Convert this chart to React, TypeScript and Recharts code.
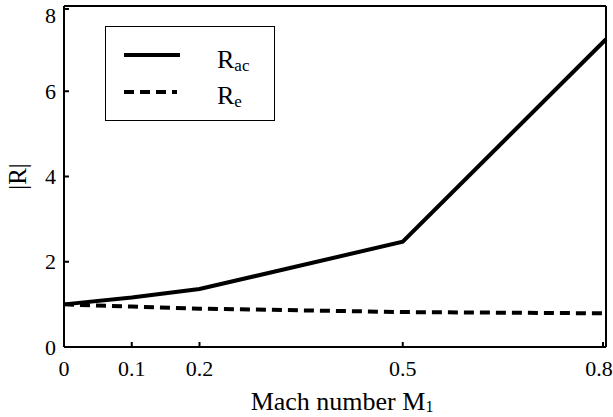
import React from 'react';
import { LineChart, Line, XAxis, YAxis, ReferenceLine, Legend } from 'recharts';

const machNumbers = [0, 0.1, 0.2, 0.5, 0.8];
const rAc = [1.0, 1.16, 1.36, 2.47, 7.22];
const rE = [1.0, 0.95, 0.9, 0.82, 0.79];
const xTicks = [0, 0.1, 0.2, 0.5, 0.8];
const yTicks = [0, 2, 4, 6, 8];

const data = machNumbers.map((m, i) => ({ m, rAc: rAc[i], rE: rE[i] }));

const FONT = '"Liberation Serif", "Times New Roman", serif';

const YTick = (props: any) => {
  const { x, y, payload } = props;
  const ty = Math.max(y, 15);
  return (
    <g>
      <line x1={x} x2={x + 5} y1={y} y2={y} stroke="#000" strokeWidth={2} />
      <text x={x - 8} y={ty + 7.5} textAnchor="end" fontSize={22} fontFamily={FONT} fill="#000">
        {payload.value}
      </text>
    </g>
  );
};

const XTick = (props: any) => {
  const { x, y, payload } = props;
  const tx = Math.min(x, 599);
  return (
    <g>
      <line x1={x} x2={x} y1={y} y2={y - 5} stroke="#000" strokeWidth={2} />
      <text x={tx} y={y + 29} textAnchor="middle" fontSize={22} fontFamily={FONT} fill="#000">
        {payload.value}
      </text>
    </g>
  );
};

const LegendBox = () => (
  <div style={{ width: 170, height: 95, border: '1.5px solid #000', boxSizing: 'border-box', background: '#fff', position: 'relative' }}>
    <svg width={170} height={95} style={{ position: 'absolute', left: -1.5, top: -1.5 }}>
      <line x1={19} x2={75} y1={29} y2={29} stroke="#000" strokeWidth={4} />
      <line x1={19} x2={72} y1={66} y2={66} stroke="#000" strokeWidth={4} strokeDasharray="10 6" />
      <text x={112} y={42} fontSize={26} fontFamily={FONT} fill="#000">
        R<tspan fontSize={17} dy={3}>ac</tspan>
      </text>
      <text x={112} y={78} fontSize={26} fontFamily={FONT} fill="#000">
        R<tspan fontSize={17} dy={3}>e</tspan>
      </text>
    </svg>
  </div>
);

export default function App() {
  return (
    <div style={{ position: 'absolute', left: 0, top: 0, background: '#fff' }}>
      <LineChart width={613} height={417} data={data} margin={{ top: 6, right: 7, left: 0, bottom: 0 }}>
        <XAxis
          dataKey="m"
          type="number"
          domain={[0, 0.8]}
          ticks={xTicks}
          height={70}
          tickSize={0}
          tickMargin={0}
          tickLine={false}
          tick={<XTick />}
          axisLine={{ stroke: '#000', strokeWidth: 2 }}
          label={{
            content: (p: any) => {
              const vb = p.viewBox;
              return (
                <text x={vb.x + vb.width / 2 + 7} y={vb.y + 63} textAnchor="middle" fontSize={26} fontFamily={FONT} fill="#000">
                  Mach number M<tspan fontSize={16} dy={2}>1</tspan>
                </text>
              );
            },
          }}
        />
        <YAxis
          type="number"
          domain={[0, 8]}
          ticks={yTicks}
          width={64}
          tickSize={0}
          tickMargin={0}
          tickLine={false}
          tick={<YTick />}
          axisLine={{ stroke: '#000', strokeWidth: 2 }}
          label={{
            content: (p: any) => {
              const vb = p.viewBox;
              const cx = vb.x + 26;
              const cy = vb.y + vb.height / 2;
              return (
                <text x={cx} y={cy} transform={`rotate(-90 ${cx} ${cy})`} textAnchor="middle" fontSize={25} fontFamily={FONT} fill="#000">
                  |R|
                </text>
              );
            },
          }}
        />
        <ReferenceLine y={8} stroke="#000" strokeWidth={2} />
        <ReferenceLine x={0.8} stroke="#000" strokeWidth={2} />
        <Line dataKey="rAc" stroke="#000" strokeWidth={4} dot={false} isAnimationActive={false} />
        <Line dataKey="rE" stroke="#000" strokeWidth={4} strokeDasharray="10 6" dot={false} isAnimationActive={false} />
        <Legend
          layout="horizontal"
          verticalAlign="middle"
          align="center"
          content={() => <LegendBox />}
          wrapperStyle={{ left: 105, top: 26, width: 170, height: 95 }}
        />
      </LineChart>
    </div>
  );
}
